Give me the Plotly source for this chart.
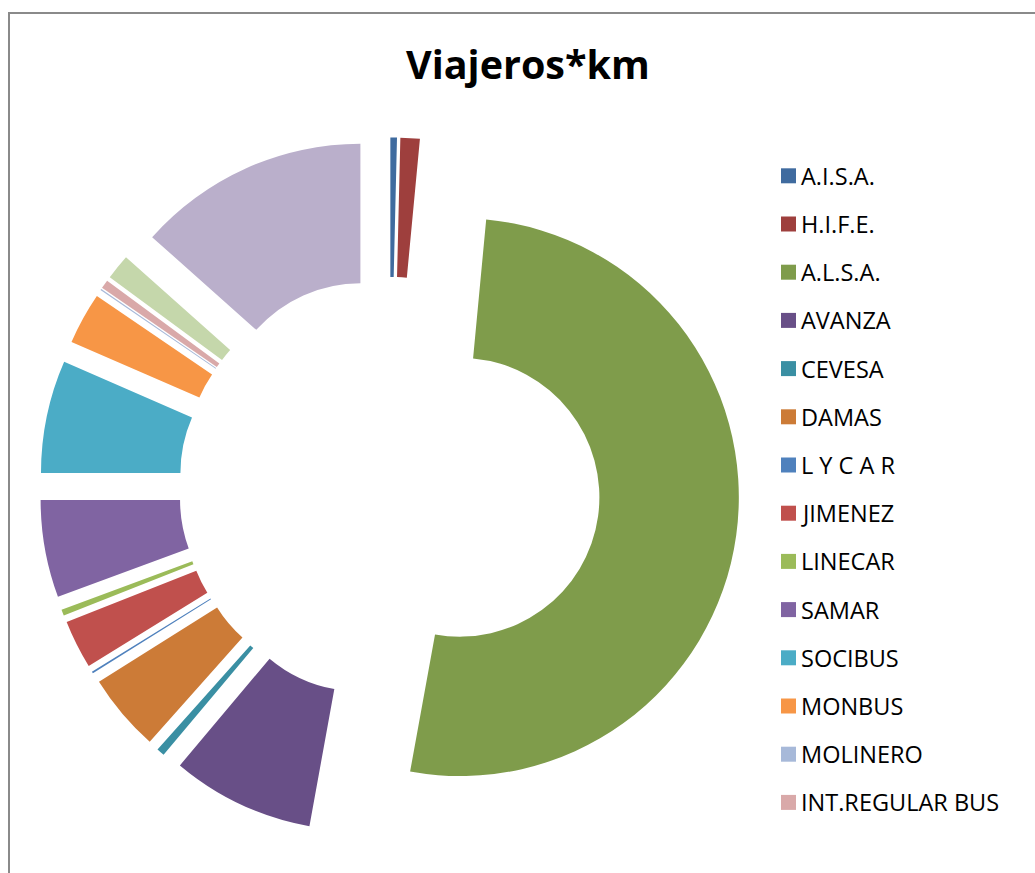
import plotly.graph_objects as go

W, H = 1035, 873

title_text = "Viajeros*km"

operators = ["A.I.S.A.", "H.I.F.E.", "A.L.S.A.", "AVANZA", "CEVESA", "DAMAS",
             "L Y C A R", "JIMENEZ", "LINECAR", "SAMAR", "SOCIBUS", "MONBUS",
             "MOLINERO", "INT.REGULAR BUS", "Otros 1", "Otros 2"]
shares = [0.38, 1.12, 51.36, 8.26, 0.46, 4.50, 0.11, 2.81, 0.36, 5.64, 6.53,
          3.00, 0.08, 0.50, 1.47, 13.42]
colors = ["#3F6B9F", "#9E3F3D", "#7F9C4B", "#684F87", "#3A8FA3", "#CC7B37",
          "#4F81BD", "#C0504D", "#9BBB59", "#8064A2", "#4BACC6", "#F79646",
          "#A7B9D9", "#D9A9A9", "#C5D7AB", "#BAAFCB"]
legend_count = 14  # entries visible in the legend

def px(x):
    return x / W

def py(y):
    return 1 - y / H

# pie geometry (pixels)
cx, cy, box = 389.5, 487.5, 700
pull = 0.255

fig = go.Figure(go.Pie(
    labels=operators, values=shares, hole=0.5, sort=False,
    direction="clockwise", rotation=0, pull=[pull] * len(shares),
    marker=dict(colors=colors, line=dict(width=0)),
    textinfo="none", showlegend=False,
    domain=dict(x=[px(cx - box / 2), px(cx + box / 2)],
                y=[py(cy + box / 2), py(cy - box / 2)]),
))

shapes = [dict(type="rect", xref="paper", yref="paper",
               x0=px(9), x1=px(W + 20), y0=py(H + 20), y1=py(13),
               line=dict(color="#8A8A8A", width=2), fillcolor="rgba(0,0,0,0)")]
annotations = [dict(text="<b>" + title_text + "</b>", xref="paper", yref="paper",
                    x=px(528), y=py(64), xanchor="center", yanchor="middle",
                    showarrow=False, font=dict(family="Open Sans", size=39.5, color="#000000"))]

y0, step = 175.8, 48.2
for i in range(legend_count):
    yc = y0 + step * i
    shapes.append(dict(type="rect", xref="paper", yref="paper",
                       x0=px(781), x1=px(796), y0=py(yc + 7.5), y1=py(yc - 7.5),
                       line=dict(width=0), fillcolor=colors[i]))
    annotations.append(dict(text=operators[i], xref="paper", yref="paper",
                            x=px(799), y=py(yc), xanchor="left", yanchor="middle",
                            showarrow=False,
                            font=dict(family="Open Sans", size=23.5, color="#000000")))

fig.update_layout(width=W, height=H, margin=dict(l=0, r=0, t=0, b=0),
                  paper_bgcolor="white", plot_bgcolor="white",
                  shapes=shapes, annotations=annotations)

fig.write_html("out.html", config={"displayModeBar": False},
               post_script="document.body.style.margin='0';document.body.style.overflow='hidden';")
